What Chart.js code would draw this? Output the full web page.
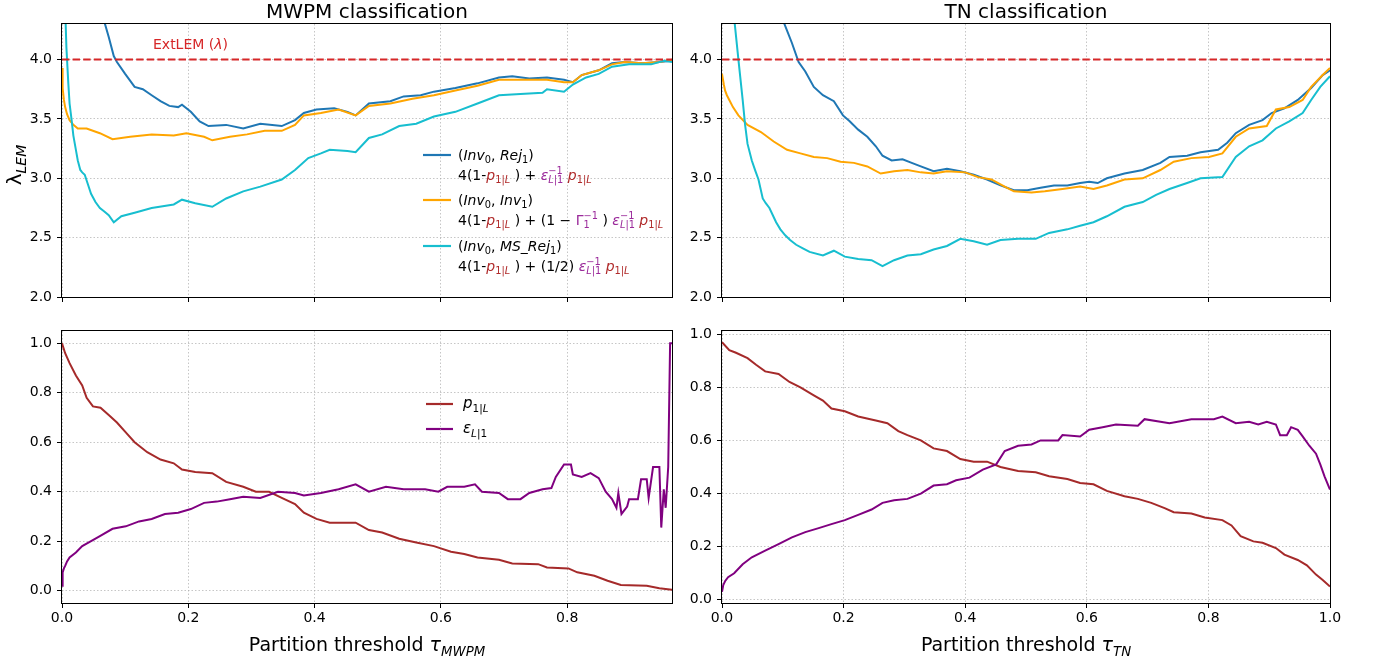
<!DOCTYPE html>
<html><head><meta charset="utf-8">
<script src="https://cdn.jsdelivr.net/npm/chart.js@4"></script>
<style>
html,body{margin:0;padding:0;background:#fff;}
#wrap{position:relative;width:1380px;height:656px;overflow:hidden;}
canvas{position:absolute;left:0;top:0;}
</style></head><body>
<div id="wrap">
<canvas id="c1" width="1380" height="656"></canvas>
<canvas id="c2" width="1380" height="656"></canvas>
<canvas id="c3" width="1380" height="656"></canvas>
<canvas id="c4" width="1380" height="656"></canvas>
</div>
<script>
// ---------- tick labels ----------
const xTicksMWPM = [0, 0.2, 0.4, 0.6, 0.8];
const xTicksTN = [0, 0.2, 0.4, 0.6, 0.8, 1.0];
const yTicksLam = [2.0, 2.5, 3.0, 3.5, 4.0];
const yTicksProb = [0, 0.2, 0.4, 0.6, 0.8, 1.0];
const extLEM = 4.0;

// ---------- MWPM: lambda_LEM ----------
const mwpmRejX = [0.060,0.074,0.082,0.087,0.100,0.115,0.128,0.142,0.156,0.170,0.184,0.190,0.204,0.218,0.232,0.260,0.287,0.314,0.348,0.369,0.383,0.403,0.431,0.452,0.465,0.486,0.520,0.541,0.568,0.589,0.623,0.658,0.692,0.713,0.740,0.768,0.795,0.809,0.823,0.850,0.871,0.891,0.919,0.946,0.966];
const mwpmRejY = [4.45,4.19,4.03,3.98,3.88,3.77,3.75,3.70,3.65,3.61,3.60,3.62,3.56,3.48,3.44,3.45,3.42,3.46,3.44,3.49,3.55,3.58,3.59,3.56,3.53,3.63,3.65,3.69,3.70,3.73,3.76,3.80,3.85,3.86,3.84,3.85,3.83,3.81,3.87,3.91,3.97,3.98,3.97,3.98,3.99];
const mwpmInvX = [0,0.001,0.003,0.005,0.008,0.012,0.018,0.025,0.039,0.060,0.080,0.108,0.142,0.177,0.197,0.225,0.238,0.266,0.293,0.321,0.348,0.369,0.383,0.410,0.438,0.465,0.486,0.520,0.555,0.589,0.623,0.658,0.692,0.726,0.768,0.795,0.809,0.823,0.850,0.871,0.891,0.919,0.946,0.966];
const mwpmInvY = [3.93,3.76,3.66,3.60,3.54,3.49,3.45,3.42,3.42,3.38,3.33,3.35,3.37,3.36,3.38,3.35,3.32,3.35,3.37,3.40,3.40,3.45,3.53,3.55,3.58,3.53,3.61,3.63,3.67,3.70,3.74,3.78,3.83,3.83,3.83,3.81,3.81,3.87,3.91,3.96,3.98,3.97,3.98,4.00];
const mwpmMsX = [0.004,0.007,0.010,0.012,0.015,0.018,0.022,0.025,0.029,0.032,0.036,0.041,0.046,0.053,0.060,0.067,0.074,0.082,0.094,0.115,0.142,0.177,0.190,0.211,0.238,0.260,0.287,0.314,0.348,0.369,0.390,0.410,0.424,0.452,0.465,0.486,0.507,0.534,0.561,0.589,0.623,0.658,0.692,0.726,0.761,0.768,0.795,0.809,0.830,0.850,0.871,0.898,0.933,0.953,0.966];
const mwpmMsY = [4.60,4.10,3.80,3.63,3.50,3.36,3.24,3.15,3.07,3.05,3.03,2.95,2.87,2.80,2.75,2.72,2.69,2.63,2.68,2.71,2.75,2.78,2.82,2.79,2.76,2.83,2.89,2.93,2.99,3.07,3.17,3.21,3.24,3.23,3.22,3.34,3.37,3.44,3.46,3.52,3.56,3.63,3.70,3.71,3.72,3.75,3.73,3.79,3.85,3.88,3.94,3.96,3.96,3.99,3.98];

// ---------- TN: lambda_LEM ----------
const tnRejX = [0.095,0.115,0.126,0.137,0.151,0.166,0.184,0.199,0.210,0.224,0.239,0.253,0.264,0.279,0.297,0.312,0.327,0.348,0.370,0.392,0.414,0.436,0.458,0.480,0.502,0.524,0.546,0.568,0.589,0.604,0.618,0.633,0.662,0.692,0.721,0.736,0.765,0.787,0.816,0.831,0.845,0.867,0.889,0.904,0.925,0.947,0.969,0.988,1.0];
const tnRejY = [4.40,4.14,3.98,3.90,3.77,3.70,3.65,3.53,3.48,3.41,3.35,3.27,3.19,3.15,3.16,3.13,3.10,3.06,3.08,3.06,3.03,2.99,2.94,2.90,2.90,2.92,2.94,2.94,2.96,2.97,2.96,3.00,3.04,3.07,3.13,3.18,3.19,3.22,3.24,3.30,3.38,3.45,3.49,3.55,3.59,3.66,3.76,3.87,3.91];
const tnInvX = [0,0.003,0.005,0.008,0.012,0.018,0.027,0.042,0.064,0.085,0.107,0.129,0.151,0.173,0.195,0.217,0.239,0.261,0.283,0.305,0.327,0.348,0.370,0.400,0.421,0.443,0.465,0.480,0.509,0.531,0.560,0.589,0.611,0.633,0.662,0.692,0.721,0.743,0.772,0.801,0.823,0.845,0.867,0.896,0.911,0.933,0.955,0.969,0.988,1.0];
const tnInvY = [3.88,3.79,3.74,3.70,3.66,3.60,3.53,3.45,3.39,3.31,3.24,3.21,3.18,3.17,3.14,3.13,3.10,3.04,3.06,3.07,3.05,3.04,3.06,3.05,3.01,2.99,2.93,2.89,2.88,2.89,2.91,2.93,2.91,2.94,2.99,3.00,3.07,3.14,3.17,3.18,3.21,3.35,3.42,3.44,3.58,3.60,3.66,3.77,3.87,3.93];
const tnMsX = [0.015,0.027,0.034,0.038,0.042,0.049,0.055,0.060,0.067,0.072,0.078,0.089,0.096,0.104,0.112,0.122,0.133,0.144,0.166,0.184,0.202,0.224,0.246,0.264,0.283,0.305,0.327,0.348,0.370,0.392,0.414,0.436,0.458,0.487,0.516,0.538,0.568,0.589,0.611,0.633,0.662,0.692,0.714,0.736,0.765,0.787,0.823,0.845,0.867,0.889,0.911,0.933,0.955,0.969,0.984,1.0];
const tnMsY = [4.60,4.00,3.66,3.45,3.29,3.15,3.06,2.99,2.83,2.79,2.75,2.63,2.57,2.52,2.48,2.44,2.41,2.38,2.35,2.39,2.34,2.32,2.31,2.26,2.31,2.35,2.36,2.40,2.43,2.49,2.47,2.44,2.48,2.49,2.49,2.54,2.57,2.60,2.63,2.68,2.76,2.80,2.86,2.91,2.96,3.00,3.01,3.18,3.27,3.32,3.42,3.48,3.55,3.66,3.77,3.86];

// ---------- MWPM: probabilities ----------
const mwpmPX = [0,0.005,0.012,0.022,0.032,0.039,0.049,0.061,0.074,0.087,0.101,0.115,0.135,0.156,0.177,0.190,0.211,0.238,0.260,0.287,0.307,0.328,0.348,0.369,0.383,0.403,0.424,0.465,0.486,0.507,0.534,0.561,0.589,0.616,0.637,0.658,0.692,0.713,0.754,0.768,0.802,0.816,0.843,0.864,0.885,0.926,0.946,0.966];
const mwpmPY = [1.0,0.96,0.92,0.87,0.83,0.78,0.745,0.74,0.71,0.68,0.64,0.60,0.56,0.53,0.515,0.49,0.48,0.475,0.44,0.42,0.40,0.40,0.375,0.35,0.315,0.29,0.275,0.275,0.245,0.235,0.21,0.195,0.18,0.157,0.148,0.134,0.125,0.11,0.107,0.094,0.09,0.074,0.06,0.04,0.023,0.02,0.01,0.004];
const mwpmEX = [0,0.001,0.003,0.005,0.008,0.012,0.022,0.032,0.046,0.060,0.080,0.101,0.122,0.142,0.163,0.184,0.204,0.225,0.245,0.266,0.287,0.314,0.342,0.369,0.383,0.410,0.438,0.465,0.486,0.513,0.541,0.575,0.596,0.610,0.637,0.654,0.665,0.692,0.706,0.726,0.740,0.761,0.775,0.782,0.795,0.806,0.809,0.823,0.837,0.850,0.861,0.871,0.878,0.881,0.886,0.895,0.898,0.912,0.917,0.926,0.929,0.936,0.946,0.949,0.953,0.956,0.960,0.963,0.966];
const mwpmEY = [0.02,0.074,0.09,0.10,0.118,0.134,0.154,0.18,0.20,0.22,0.25,0.26,0.28,0.29,0.31,0.315,0.33,0.355,0.36,0.37,0.38,0.375,0.40,0.395,0.385,0.395,0.41,0.43,0.40,0.42,0.41,0.41,0.40,0.42,0.42,0.43,0.40,0.395,0.37,0.37,0.395,0.41,0.415,0.46,0.51,0.51,0.47,0.46,0.475,0.455,0.40,0.37,0.335,0.395,0.31,0.34,0.37,0.37,0.45,0.45,0.375,0.50,0.50,0.255,0.41,0.335,0.50,1.0,1.0];

// ---------- TN: probabilities ----------
const tnPX = [0,0.012,0.023,0.042,0.056,0.071,0.093,0.111,0.129,0.151,0.166,0.180,0.202,0.224,0.253,0.272,0.290,0.305,0.327,0.348,0.370,0.392,0.414,0.436,0.458,0.487,0.516,0.538,0.568,0.589,0.611,0.633,0.662,0.684,0.706,0.728,0.743,0.772,0.794,0.823,0.838,0.853,0.874,0.889,0.911,0.925,0.947,0.962,0.977,0.988,1.0];
const tnPY = [0.97,0.94,0.93,0.91,0.885,0.86,0.85,0.82,0.80,0.77,0.75,0.72,0.71,0.69,0.675,0.665,0.635,0.62,0.60,0.57,0.56,0.53,0.52,0.52,0.50,0.485,0.48,0.465,0.455,0.44,0.435,0.41,0.39,0.38,0.365,0.345,0.33,0.325,0.31,0.30,0.28,0.24,0.22,0.215,0.195,0.17,0.15,0.13,0.095,0.075,0.05];
const tnEX = [0,0.002,0.005,0.010,0.020,0.034,0.049,0.071,0.093,0.115,0.137,0.159,0.180,0.202,0.224,0.246,0.264,0.283,0.305,0.327,0.348,0.370,0.385,0.407,0.429,0.451,0.465,0.487,0.509,0.524,0.553,0.560,0.589,0.604,0.626,0.648,0.684,0.695,0.721,0.736,0.772,0.809,0.823,0.845,0.867,0.882,0.896,0.911,0.918,0.929,0.936,0.947,0.955,0.966,0.977,0.984,0.991,1.0];
const tnEY = [0.03,0.055,0.07,0.085,0.10,0.134,0.16,0.185,0.21,0.235,0.255,0.27,0.285,0.30,0.32,0.34,0.365,0.375,0.38,0.40,0.43,0.435,0.45,0.46,0.49,0.51,0.56,0.58,0.585,0.60,0.60,0.62,0.615,0.64,0.65,0.66,0.655,0.68,0.67,0.665,0.68,0.68,0.69,0.665,0.67,0.66,0.67,0.66,0.62,0.62,0.65,0.64,0.615,0.58,0.55,0.51,0.465,0.415];

// ---------- styling ----------
const FONT = "'DejaVu Sans', sans-serif";
const W = 1380, H = 656;
const C_BLUE = '#1f77b4', C_ORANGE = '#ffa500', C_CYAN = '#17becf', C_RED = '#d62728';
const C_BROWN = '#a52a2a', C_PURPLE = '#800080';
const T_P = '#b02a2a', T_E = '#9b2a9b';

const pts = (xs, ys) => xs.map((x, i) => ({x, y: ys[i]}));
const ds = (xs, ys, color, order, extra) => Object.assign({data: pts(xs, ys), borderColor: color, backgroundColor: color, borderWidth: 2, pointRadius: 0, fill: false, order}, extra || {});

function frame(){
  return {id: 'frame', afterDraw(chart){
    const a = chart.chartArea, ctx = chart.ctx;
    ctx.save();
    ctx.strokeStyle = '#000'; ctx.lineWidth = 1;
    ctx.strokeRect(Math.round(a.left) - 0.5, Math.round(a.top) - 0.5, Math.round(a.right - a.left) + 1, Math.round(a.bottom - a.top) + 1);
    ctx.restore();
  }};
}

function panel(id, rect, xr, yr, xTicks, yTicks, showXLabels, datasets, extraPlugins){
  const YW = 50, XH = showXLabels ? 30 : 8;
  const padding = {left: rect.l - YW, top: rect.t, right: W - rect.r, bottom: H - rect.b - XH};
  const grid = {color: 'rgba(170,170,170,0.75)', lineWidth: 0.9, tickColor: '#000', tickLength: 5, tickWidth: 1, tickBorderDash: []};
  const tickFont = {family: FONT, size: 14};
  return new Chart(document.getElementById(id), {
    type: 'line',
    data: {datasets},
    options: {
      responsive: false, animation: false, devicePixelRatio: 1,
      layout: {padding},
      plugins: {legend: {display: false}, tooltip: {enabled: false}, title: {display: false}},
      elements: {point: {radius: 0}, line: {tension: 0}},
      scales: {
        x: {type: 'linear', min: xr[0], max: xr[1],
            afterBuildTicks: s => { s.ticks = xTicks.map(v => ({value: v})); },
            afterFit: s => { s.height = XH; },
            ticks: {display: showXLabels, font: tickFont, color: '#000', padding: 2, maxRotation: 0, autoSkip: false, callback: v => Number(v).toFixed(1)},
            grid: grid, border: {display: false, dash: [1.5, 2]}},
        y: {type: 'linear', min: yr[0], max: yr[1],
            afterBuildTicks: s => { s.ticks = yTicks.map(v => ({value: v})); },
            afterFit: s => { s.width = YW; },
            ticks: {font: tickFont, color: '#000', padding: 5, autoSkip: false, callback: v => Number(v).toFixed(1)},
            grid: grid, border: {display: false, dash: [1.5, 2]}}
      }
    },
    plugins: [frame()].concat(extraPlugins || [])
  });
}

// ---------- rich text ----------
function fnt(sz, it){ return (it ? 'italic ' : '') + sz + 'px ' + FONT; }
function atomsW(ctx, atoms, base){ let w = 0; for (const a of atoms){ ctx.font = fnt(base * (a.s || 1), a.i); w += ctx.measureText(a.t).width; } return w; }
function drawAtoms(ctx, x, y, atoms, base){
  for (const a of atoms){ ctx.font = fnt(base * (a.s || 1), a.i); ctx.fillStyle = a.c || '#000'; ctx.fillText(a.t, x, y + (a.dy || 0) * base); x += ctx.measureText(a.t).width; }
  return x;
}
function richW(ctx, items, base){
  let w = 0;
  for (const it of items){
    if (it.sup || it.sub) w += Math.max(it.sup ? atomsW(ctx, it.sup, base) : 0, it.sub ? atomsW(ctx, it.sub, base) : 0);
    else w += atomsW(ctx, [it], base);
  }
  return w;
}
function drawRich(ctx, x, y, items, base, align){
  ctx.textBaseline = 'alphabetic'; ctx.textAlign = 'left';
  if (align === 'center') x -= richW(ctx, items, base) / 2;
  for (const it of items){
    if (it.sup || it.sub){
      let w = 0;
      if (it.sup) w = Math.max(w, drawAtoms(ctx, x, y, it.sup.map(a => Object.assign({}, a, {dy: -0.40})), base) - x);
      if (it.sub) w = Math.max(w, drawAtoms(ctx, x, y, it.sub.map(a => Object.assign({}, a, {dy: 0.24})), base) - x);
      x += w;
    } else x = drawAtoms(ctx, x, y, [it], base);
  }
}
const tx = (t, c) => ({t, c});
const mi = (t, c) => ({t, c, i: true});
const sm = a => Object.assign({}, a, {s: 0.7});
const SUB = atoms => ({sub: atoms.map(sm)});
const SUPSUB = (sp, sb) => ({sup: sp.map(sm), sub: sb.map(sm)});
const p1L = [mi('p', T_P), SUB([tx('1|', T_P), mi('L', T_P)])];
const epsInv = [mi('ε', T_E), SUPSUB([tx('−1', T_E)], [mi('L', T_E), tx('|1', T_E)])];

const textPlugin = {id: 'texts', afterDraw(chart){
  const ctx = chart.ctx;
  ctx.save();
  // titles
  drawRich(ctx, 367, 18, [tx('MWPM classification')], 20, 'center');
  drawRich(ctx, 1026, 18, [tx('TN classification')], 20, 'center');
  // x titles
  drawRich(ctx, 367, 651, [tx('Partition threshold '), mi('τ'), SUB([mi('MWPM')])], 19, 'center');
  drawRich(ctx, 1026, 651, [tx('Partition threshold '), mi('τ'), SUB([mi('TN')])], 19, 'center');
  // y title
  ctx.save(); ctx.translate(21, 165); ctx.rotate(-Math.PI / 2);
  drawRich(ctx, 0, 0, [tx('λ'), SUB([mi('LEM')])], 20, 'center');
  ctx.restore();
  // ExtLEM
  drawRich(ctx, 153, 49, [tx('ExtLEM (', C_RED), mi('λ', C_RED), tx(')', C_RED)], 14);
  // top-left legend
  const hx0 = 423, hx1 = 451, tx0 = 458;
  const rows = [
    {c: C_BLUE, y: 155, a: [tx('('), mi('Inv'), SUB([tx('0')]), tx(', '), mi('Rej'), SUB([tx('1')]), tx(')')],
     b: [tx('4(1-')].concat(p1L, [tx(' ) + ')], epsInv, [tx(' ')], p1L)},
    {c: C_ORANGE, y: 200, a: [tx('('), mi('Inv'), SUB([tx('0')]), tx(', '), mi('Inv'), SUB([tx('1')]), tx(')')],
     b: [tx('4(1-')].concat(p1L, [tx(' ) + (1 − '), tx('Γ', T_E), SUPSUB([tx('−1', T_E)], [tx('1', T_E)]), tx(' ) ')], epsInv, [tx(' ')], p1L)},
    {c: C_CYAN, y: 246, a: [tx('('), mi('Inv'), SUB([tx('0')]), tx(', '), mi('MS_Rej'), SUB([tx('1')]), tx(')')],
     b: [tx('4(1-')].concat(p1L, [tx(' ) + (1/2) ')], epsInv, [tx(' ')], p1L)}
  ];
  for (const r of rows){
    ctx.strokeStyle = r.c; ctx.lineWidth = 2.2; ctx.beginPath(); ctx.moveTo(hx0, r.y); ctx.lineTo(hx1, r.y); ctx.stroke();
    drawRich(ctx, tx0, r.y + 5, r.a, 14);
    drawRich(ctx, tx0, r.y + 25, r.b, 14);
  }
  // bottom-left legend
  const rows2 = [
    {c: C_BROWN, y: 404, t: [mi('p'), SUB([tx('1|'), mi('L')])]},
    {c: C_PURPLE, y: 429, t: [mi('ε'), SUB([mi('L'), tx('|1')])]}
  ];
  for (const r of rows2){
    ctx.strokeStyle = r.c; ctx.lineWidth = 2.2; ctx.beginPath(); ctx.moveTo(426, r.y); ctx.lineTo(453, r.y); ctx.stroke();
    drawRich(ctx, 463, r.y + 4, r.t, 15);
  }
  ctx.restore();
}};

// ---------- panels ----------
const MWPM_MAX = 0.966;
panel('c1', {l: 62, t: 24, r: 672, b: 297}, [0, MWPM_MAX], [2.0, 4.3], xTicksMWPM, yTicksLam, false, [
  ds([0, MWPM_MAX], [extLEM, extLEM], C_RED, 0, {borderDash: [7.4, 3.2]}),
  ds(mwpmMsX, mwpmMsY, C_CYAN, 1),
  ds(mwpmInvX, mwpmInvY, C_ORANGE, 2),
  ds(mwpmRejX, mwpmRejY, C_BLUE, 3)
], [textPlugin]);
panel('c2', {l: 722, t: 24, r: 1330, b: 297}, [0, 1.0], [2.0, 4.3], xTicksTN, yTicksLam, false, [
  ds([0, 1.0], [extLEM, extLEM], C_RED, 0, {borderDash: [7.4, 3.2]}),
  ds(tnMsX, tnMsY, C_CYAN, 1),
  ds(tnInvX, tnInvY, C_ORANGE, 2),
  ds(tnRejX, tnRejY, C_BLUE, 3)
]);
panel('c3', {l: 62, t: 331, r: 672, b: 603}, [0, MWPM_MAX], [-0.05, 1.05], xTicksMWPM, yTicksProb, true, [
  ds(mwpmEX, mwpmEY, C_PURPLE, 0),
  ds(mwpmPX, mwpmPY, C_BROWN, 1)
]);
panel('c4', {l: 722, t: 331, r: 1330, b: 603}, [0, 1.0], [-0.012, 1.012], xTicksTN, yTicksProb, true, [
  ds(tnEX, tnEY, C_PURPLE, 0),
  ds(tnPX, tnPY, C_BROWN, 1)
]);
</script>
</body></html>
